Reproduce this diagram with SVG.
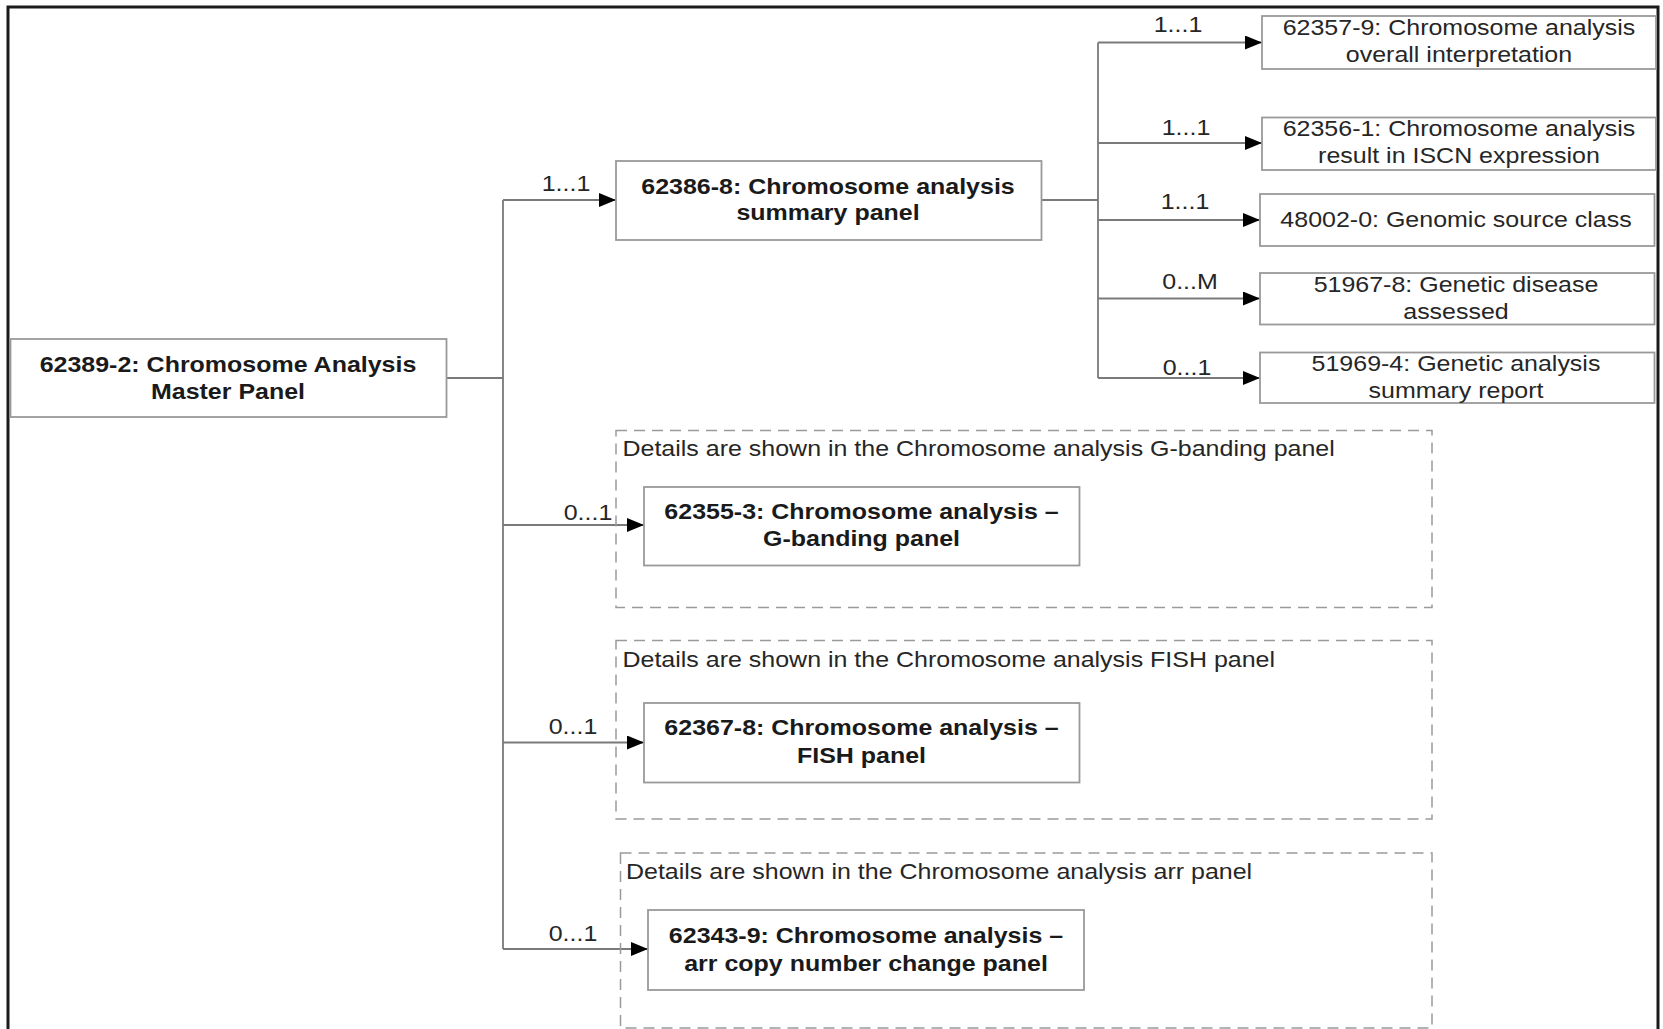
<svg xmlns="http://www.w3.org/2000/svg" width="1663" height="1029" viewBox="0 0 1663 1029">
<style>
.bg{fill:#ffffff}
.frame{fill:none;stroke:#1a1a1a;stroke-width:3}
.box{fill:#ffffff;stroke:#9a9a9a;stroke-width:1.8}
.grp{fill:none;stroke:#9a9a9a;stroke-width:1.5;stroke-dasharray:11 7}
.con{fill:none;stroke:#7a7a7a;stroke-width:1.8}
.t{font-family:"Liberation Sans",Arial,sans-serif;font-size:22px;fill:#262626;text-anchor:middle}
.b{font-weight:bold;fill:#1a1a1a}
.l{text-anchor:start}
</style>
<defs>
<marker id="arr" markerUnits="userSpaceOnUse" markerWidth="17" markerHeight="14" refX="17" refY="7" orient="auto">
<path d="M0,0 L17,7 L0,14 z" fill="#000000"/>
</marker>
</defs>
<rect class="bg" x="0" y="0" width="1663" height="1029"/>
<rect class="frame" x="8" y="7" width="1650" height="1100"/>

<g id="connectors">
<path class="con" d="M446.5,378 H503 M503,200 V949"/>
<path class="con" d="M503,200 H616" marker-end="url(#arr)"/>
<path class="con" d="M503,525 H644" marker-end="url(#arr)"/>
<path class="con" d="M503,742.5 H644" marker-end="url(#arr)"/>
<path class="con" d="M503,949 H648" marker-end="url(#arr)"/>
<path class="con" d="M1041.5,200 H1098 M1098,42.5 V378"/>
<path class="con" d="M1098,42.5 H1262" marker-end="url(#arr)"/>
<path class="con" d="M1098,143 H1262" marker-end="url(#arr)"/>
<path class="con" d="M1098,220 H1260" marker-end="url(#arr)"/>
<path class="con" d="M1098,298.5 H1260" marker-end="url(#arr)"/>
<path class="con" d="M1098,378 H1260" marker-end="url(#arr)"/>
<text class="t" transform="translate(566 191) scale(1.136 1)">1...1</text>
<text class="t" transform="translate(588 520) scale(1.136 1)">0...1</text>
<text class="t" transform="translate(573 734) scale(1.136 1)">0...1</text>
<text class="t" transform="translate(573 941) scale(1.136 1)">0...1</text>
<text class="t" transform="translate(1178 32) scale(1.136 1)">1...1</text>
<text class="t" transform="translate(1186 135) scale(1.136 1)">1...1</text>
<text class="t" transform="translate(1185 209) scale(1.136 1)">1...1</text>
<text class="t" transform="translate(1190 288.5) scale(1.136 1)">0...M</text>
<text class="t" transform="translate(1187 374.5) scale(1.136 1)">0...1</text>
</g>

<g id="master">
<rect class="box" x="10.5" y="339" width="436" height="78"/>
<text class="t b" transform="translate(228 372) scale(1.136 1)">62389-2: Chromosome Analysis</text>
<text class="t b" transform="translate(228 399) scale(1.136 1)">Master Panel</text>
</g>

<g id="summary">
<rect class="box" x="616" y="161" width="425.5" height="79"/>
<text class="t b" transform="translate(828 193.5) scale(1.136 1)">62386-8: Chromosome analysis</text>
<text class="t b" transform="translate(828 220) scale(1.136 1)">summary panel</text>
</g>

<g id="n62357">
<rect class="box" x="1262" y="16" width="394" height="53"/>
<text class="t" transform="translate(1459 35) scale(1.136 1)">62357-9: Chromosome analysis</text>
<text class="t" transform="translate(1459 61.5) scale(1.136 1)">overall interpretation</text>
</g>

<g id="n62356">
<rect class="box" x="1262" y="117.5" width="394" height="52.5"/>
<text class="t" transform="translate(1459 136) scale(1.136 1)">62356-1: Chromosome analysis</text>
<text class="t" transform="translate(1459 162.5) scale(1.136 1)">result in ISCN expression</text>
</g>

<g id="n48002">
<rect class="box" x="1260" y="194" width="394.5" height="52"/>
<text class="t" transform="translate(1456 227) scale(1.136 1)">48002-0: Genomic source class</text>
</g>

<g id="n51967">
<rect class="box" x="1260" y="273" width="394.5" height="51.5"/>
<text class="t" transform="translate(1456 292) scale(1.136 1)">51967-8: Genetic disease</text>
<text class="t" transform="translate(1456 318.5) scale(1.136 1)">assessed</text>
</g>

<g id="n51969">
<rect class="box" x="1260" y="352.5" width="394.5" height="50.5"/>
<text class="t" transform="translate(1456 371) scale(1.136 1)">51969-4: Genetic analysis</text>
<text class="t" transform="translate(1456 397.5) scale(1.136 1)">summary report</text>
</g>

<g id="gbanding-group">
<rect class="grp" x="616" y="430.5" width="816" height="177"/>
<text class="t l" transform="translate(622.5 456) scale(1.136 1)">Details are shown in the Chromosome analysis G-banding panel</text>
</g>
<g id="n62355">
<rect class="box" x="644" y="487" width="435.5" height="78.5"/>
<text class="t b" transform="translate(861.5 519) scale(1.136 1)">62355-3: Chromosome analysis –</text>
<text class="t b" transform="translate(861.5 546) scale(1.136 1)">G-banding panel</text>
</g>

<g id="fish-group">
<rect class="grp" x="616" y="640.5" width="816" height="178.5"/>
<text class="t l" transform="translate(622.5 667) scale(1.136 1)">Details are shown in the Chromosome analysis FISH panel</text>
</g>
<g id="n62367">
<rect class="box" x="644" y="703" width="435.5" height="79.5"/>
<text class="t b" transform="translate(861.5 735) scale(1.136 1)">62367-8: Chromosome analysis –</text>
<text class="t b" transform="translate(861.5 762.5) scale(1.136 1)">FISH panel</text>
</g>

<g id="arr-group">
<rect class="grp" x="620.5" y="853" width="811.5" height="175"/>
<text class="t l" transform="translate(626 879) scale(1.136 1)">Details are shown in the Chromosome analysis arr panel</text>
</g>
<g id="n62343">
<rect class="box" x="648" y="910" width="436" height="80"/>
<text class="t b" transform="translate(866 943) scale(1.136 1)">62343-9: Chromosome analysis –</text>
<text class="t b" transform="translate(866 970.5) scale(1.136 1)">arr copy number change panel</text>
</g>
</svg>
